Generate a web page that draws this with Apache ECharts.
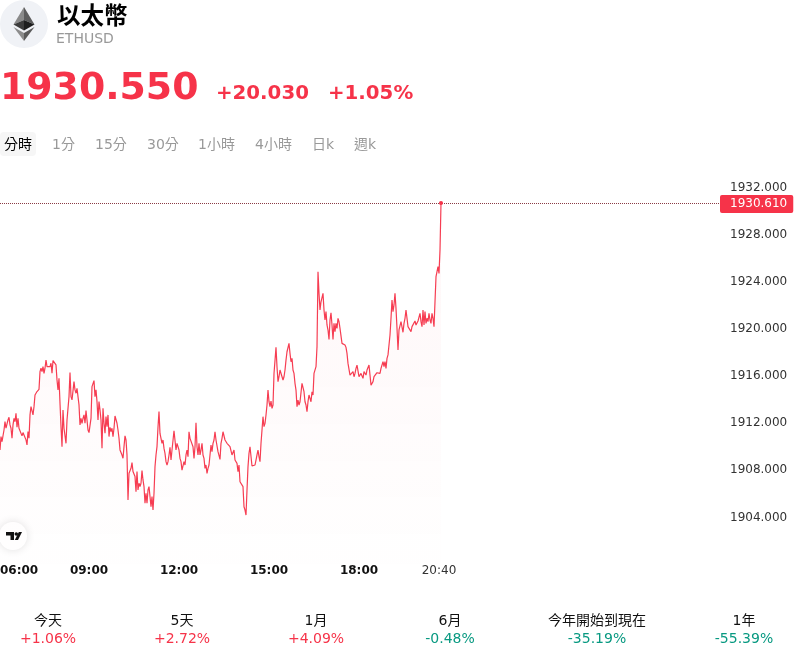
<!DOCTYPE html>
<html>
<head>
<meta charset="utf-8">
<style>html,body{margin:0;padding:0;background:#fff}#c{width:800px;height:658px}</style>
<script src="https://cdn.jsdelivr.net/npm/echarts@6/dist/echarts.min.js"></script>
</head>
<body>
<div id="c"></div>
<script>
const name = '以太幣';
const symbol = 'ETHUSD';
const lastPrice = '1930.550';
const change = '+20.030';
const changePct = '+1.05%';
const tabs = ['分時', '1分', '15分', '30分', '1小時', '4小時', '日k', '週k'];
const periodNames = ['今天', '5天', '1月', '6月', '今年開始到現在', '1年'];
const periodValues = ['+1.06%', '+2.72%', '+4.09%', '-0.48%', '-35.19%', '-55.39%'];

const startMinute = 362; // 06:02, one sample every 2 minutes
const stepMinutes = 2;
const lastLine = 1930.61;
const yTicks = [1904, 1908, 1912, 1916, 1920, 1924, 1928, 1932];
const xTickMinutes = [362, 540, 720, 900, 1080, 1240];
const xTickLabels = ['06:00', '09:00', '12:00', '15:00', '18:00', '20:40'];

const prices0 = [1909.65,1910.78,1910.35,1910.50,1911.34,1912.05,1911.49,1911.34,1912.19,1912.42,1911.77,1911.49,1910.64,1911.77,1912.33,1912.05,1912.76,1911.57,1912.33,1911.49,1911.57,1911.34,1910.84,1911.12,1910.92,1910.92,1910.50,1910.07,1911.20,1910.64,1912.62,1913.32,1913.38,1912.62,1913.32,1914.31,1914.46,1914.60,1914.74,1914.79,1916.29,1916.58,1916.29,1916.72,1916.15,1916.58,1917.28,1916.72,1916.58,1916.58,1916.72,1917.00,1916.15,1917.23,1917.34,1917.14,1916.86,1915.59,1914.74,1915.73,1913.61,1911.63,1909.93,1913.04,1911.49,1911.34,1910.21,1912.19,1912.19,1914.17,1916.21,1914.17,1913.89,1913.89,1915.44,1914.74,1914.46,1914.88,1914.17,1913.47,1911.77,1912.33,1911.91,1912.33,1912.62,1911.91,1912.98,1912.19,1911.34,1911.12];
const prices1 = [1911.20,1912.33,1915.02,1915.16,1915.53,1914.17,1914.74,1913.75,1912.19,1913.75,1913.04,1912.19,1909.79,1913.18,1911.91,1911.06,1912.48,1911.63,1912.62,1910.78,1911.57,1911.20,1911.49,1910.78,1911.49,1912.53,1912.53,1911.91,1911.34,1910.64,1909.65,1909.65,1909.22,1908.94,1909.93,1910.84,1910.50,1909.22,1905.41,1907.67,1907.81,1908.09,1908.57,1907.81,1907.95,1907.39,1906.11,1907.81,1906.25,1906.82,1906.54,1906.82,1907.89,1907.10,1906.54,1905.12,1905.97,1905.12,1906.25,1906.54,1906.54,1904.84,1905.69,1904.56,1905.97,1908.23,1909.22,1909.93,1911.60,1912.90];
const prices2 = [1911.05,1910.63,1910.21,1910.49,1909.78,1909.36,1908.65,1908.37,1908.65,1909.22,1909.87,1908.79,1909.64,1909.50,1911.28,1911.19,1909.64,1910.21,1910.06,1909.64,1908.93,1908.65,1907.94,1908.08,1908.65,1908.37,1909.22,1909.64,1909.07,1911.19,1910.63,1910.49,1910.49,1909.92,1908.93,1909.92,1911.96,1909.92,1909.22,1910.21,1909.22,1909.64,1910.21,1909.22,1908.93,1908.08,1908.37,1907.66,1908.08,1908.37,1909.22,1910.06,1909.50,1910.21,1910.49,1911.19,1910.49,1910.49,1909.50,1909.36,1908.85,1910.21,1910.63,1911.19,1911.05,1910.49,1910.49,1910.21,1910.06,1910.21,1909.92,1910.06,1909.22,1909.22,1909.64,1908.79,1908.65,1908.51,1907.80,1908.37,1906.95,1906.81,1907.09,1906.53,1904.83,1904.55,1904.12,1906.25,1908.23,1909.36,1909.92,1909.92,1908.28,1908.23,1908.37,1908.37,1908.79,1909.22,1909.64,1909.07,1908.65,1910.21,1910.06,1912.47,1911.62,1911.90,1912.61,1913.46,1914.73];
const prices3 = [1913.74,1913.32,1913.80,1913.17,1913.46,1916.14,1916.14,1918.35,1916.71,1915.44,1915.86,1916.43,1916.48,1916.43,1915.58,1915.86,1916.43,1917.27,1917.98,1917.84,1918.69,1917.84,1917.13,1917.42,1916.43,1916.14,1915.30,1914.73,1913.32,1913.88,1913.46,1913.74,1913.74,1915.30,1915.15,1914.59,1913.74,1913.46,1912.89,1913.74,1914.31,1914.02,1913.74,1914.59,1914.31,1916.14,1916.28,1916.71,1918.41];
const prices4 = [1924.77,1922.93,1921.52,1922.22,1922.08,1922.93,1921.52,1920.67,1921.38,1920.25,1919.82,1919.03,1920.67,1921.29,1920.25,1919.03,1920.39,1919.68,1920.39,1919.96,1920.81,1920.53,1919.96,1919.82,1918.69,1918.69,1918.69,1918.55,1918.35,1917.84,1916.99,1916.85,1916.00,1915.86,1916.00,1916.29,1915.86,1916.14,1916.57,1916.85,1916.94,1915.86,1915.81,1916.14,1916.14,1915.72,1916.29,1916.14,1916.00,1916.43,1916.57,1916.85,1916.94,1915.15,1915.01,1915.44,1915.86,1915.72,1916.00,1916.20,1916.29];
const prices5 = [1916.29,1916.15,1916.57,1916.57,1917.14,1916.72,1917.14,1916.57,1917.42,1917.71,1917.65,1919.40,1920.82,1922.37,1921.38,1921.95,1922.94,1921.66,1919.97,1918.13,1919.83,1919.69,1920.53,1920.53,1919.63,1920.39,1920.82,1921.52,1921.52,1920.11,1920.25,1920.11,1919.69,1920.11,1920.11,1920.25,1920.59,1920.25,1920.39,1920.59,1920.67,1921.24,1920.53,1920.11,1921.52,1920.25,1921.38,1920.39,1920.82,1920.53,1921.24,1920.67,1920.39,1921.24,1920.82,1920.11,1920.11,1924.35,1924.49,1925.20,1924.63,1926.61,1930.61];

const prices = [].concat(prices0, prices1, prices2, prices3, prices4, prices5);
const lineData = prices.map((p, i) => [startMinute + i * stepMinutes, p]);

const RED = '#f63349', GREEN = '#089981', GREY = '#999999';
const FONT = '"DejaVu Sans","Noto Sans CJK TC",sans-serif';

const t = (x, y, text, font, fill, weight, align) => ({
  type: 'text', x, y, silent: true,
  style: { text, fill, font: (weight || 'normal') + ' ' + font + 'px ' + FONT,
           textAlign: align || 'left', textVerticalAlign: 'middle' }
});
const poly = (points, fill) => ({ type: 'polygon', silent: true, shape: { points }, style: { fill } });

const tabX = [4, 52, 95, 147, 198, 255, 312, 354];
const periodX = [48, 182, 316, 450, 597, 744];

const graphic = [
  { type: 'circle', silent: true, shape: { cx: 24, cy: 24, r: 24 }, style: { fill: '#f0f2f6' } },
  poly([[24, 7], [13.5, 24.5], [24, 20]], '#8a8a8a'),
  poly([[24, 7], [34.5, 24.5], [24, 20]], '#5c5c5c'),
  poly([[13.5, 24.5], [24, 20], [24, 30.5]], '#3c3c3c'),
  poly([[34.5, 24.5], [24, 20], [24, 30.5]], '#1e1e1e'),
  poly([[13.5, 27], [24, 33], [24, 41]], '#8c8c8c'),
  poly([[34.5, 27], [24, 33], [24, 41]], '#5a5a5a'),
  t(57, 18, name, 23.5, '#000', 'bold'),
  t(56, 39, symbol, 14, GREY),
  t(0, 89, lastPrice, 37.8, RED, 'bold'),
  t(216, 94, change, 19.8, RED, 'bold'),
  t(328, 94, changePct, 19.8, RED, 'bold'),
  { type: 'rect', silent: true, shape: { x: 0, y: 132, width: 36, height: 24, r: 4 }, style: { fill: '#f6f6f6' } },
  ...tabs.map((s, i) => t(tabX[i], 145, s, 14, i === 0 ? '#000' : GREY)),
  { type: 'circle', silent: true, shape: { cx: 13, cy: 536, r: 14 },
    style: { fill: '#fff', shadowBlur: 8, shadowColor: 'rgba(0,0,0,0.12)' } },
  poly([[6, 532], [14, 532], [14, 540], [10.5, 540], [10.5, 535.5], [6, 535.5]], '#111'),
  { type: 'circle', silent: true, shape: { cx: 16.3, cy: 534, r: 1.8 }, style: { fill: '#111' } },
  poly([[22, 532], [18, 540], [14.8, 540], [18.8, 532]], '#111'),
  ...periodNames.map((s, i) => t(periodX[i], 621, s, 14, '#111', 'normal', 'center')),
  ...periodValues.map((s, i) => t(periodX[i], 639, s, 14, s[0] === '+' ? RED : GREEN, 'normal', 'center'))
];

const chart = echarts.init(document.getElementById('c'), null, { renderer: 'canvas' });
chart.setOption({
  animation: false,
  textStyle: { fontFamily: FONT },
  graphic,
  grid: { left: 0, right: 80, top: 139.36, height: 424.28, containLabel: false, outerBoundsMode: 'none' },
  xAxis: {
    type: 'value',
    min: startMinute,
    max: startMinute + 720 * stepMinutes,
    axisLine: { show: false },
    axisTick: { show: false },
    splitLine: { show: false },
    axisLabel: {
      customValues: xTickMinutes,
      margin: 1,
      showMinLabel: true,
      showMaxLabel: true,
      alignMinLabel: 'left',
      hideOverlap: false,
      formatter: v => {
        const i = xTickMinutes.indexOf(v);
        if (i < 0) return '';
        return (i === xTickLabels.length - 1 ? '{n|' : '{b|') + xTickLabels[i] + '}';
      },
      rich: {
        b: { fontSize: 12, fontWeight: 'bold', color: '#111', fontFamily: FONT },
        n: { fontSize: 12, color: '#333', fontFamily: FONT }
      }
    }
  },
  yAxis: {
    type: 'value',
    position: 'right',
    min: 1900,
    max: 1936,
    interval: 4,
    axisLine: { show: false },
    axisTick: { show: false },
    splitLine: { show: false },
    axisLabel: {
      customValues: yTicks,
      margin: 10,
      formatter: v => '{v|' + v.toFixed(3) + '}',
      rich: {
        v: { fontSize: 12, color: '#333', fontFamily: FONT, padding: [2, 0, 0, 0] }
      }
    }
  },
  series: [{
    type: 'line',
    data: lineData,
    showSymbol: false,
    symbol: 'none',
    silent: true,
    smooth: false,
    sampling: false,
    lineStyle: { color: RED, width: 1.2, opacity: 0.95 },
    areaStyle: {
      origin: 'start',
      color: {
        type: 'linear', x: 0, y: 0, x2: 0, y2: 1,
        colorStops: [
          { offset: 0, color: 'rgba(246,51,73,0.06)' },
          { offset: 1, color: 'rgba(246,51,73,0.005)' }
        ]
      }
    },
    markPoint: {
      silent: true,
      symbol: 'circle',
      symbolSize: 4,
      itemStyle: { color: RED },
      label: { show: false },
      data: [{ coord: lineData[lineData.length - 1] }]
    },
    markLine: {
      silent: true,
      symbol: 'none',
      animation: false,
      lineStyle: { color: '#8a3a44', type: [1, 1], width: 1 },
      label: {
        show: true,
        position: 'end',
        distance: 0,
        offset: [0, 1],
        formatter: p => p.value.toFixed(3),
        color: '#fff',
        fontSize: 12,
        fontFamily: FONT,
        backgroundColor: RED,
        padding: [3, 6, 3, 10],
        borderRadius: 2
      },
      data: [{ yAxis: lastLine }]
    }
  }]
});
</script>
</body>
</html>
